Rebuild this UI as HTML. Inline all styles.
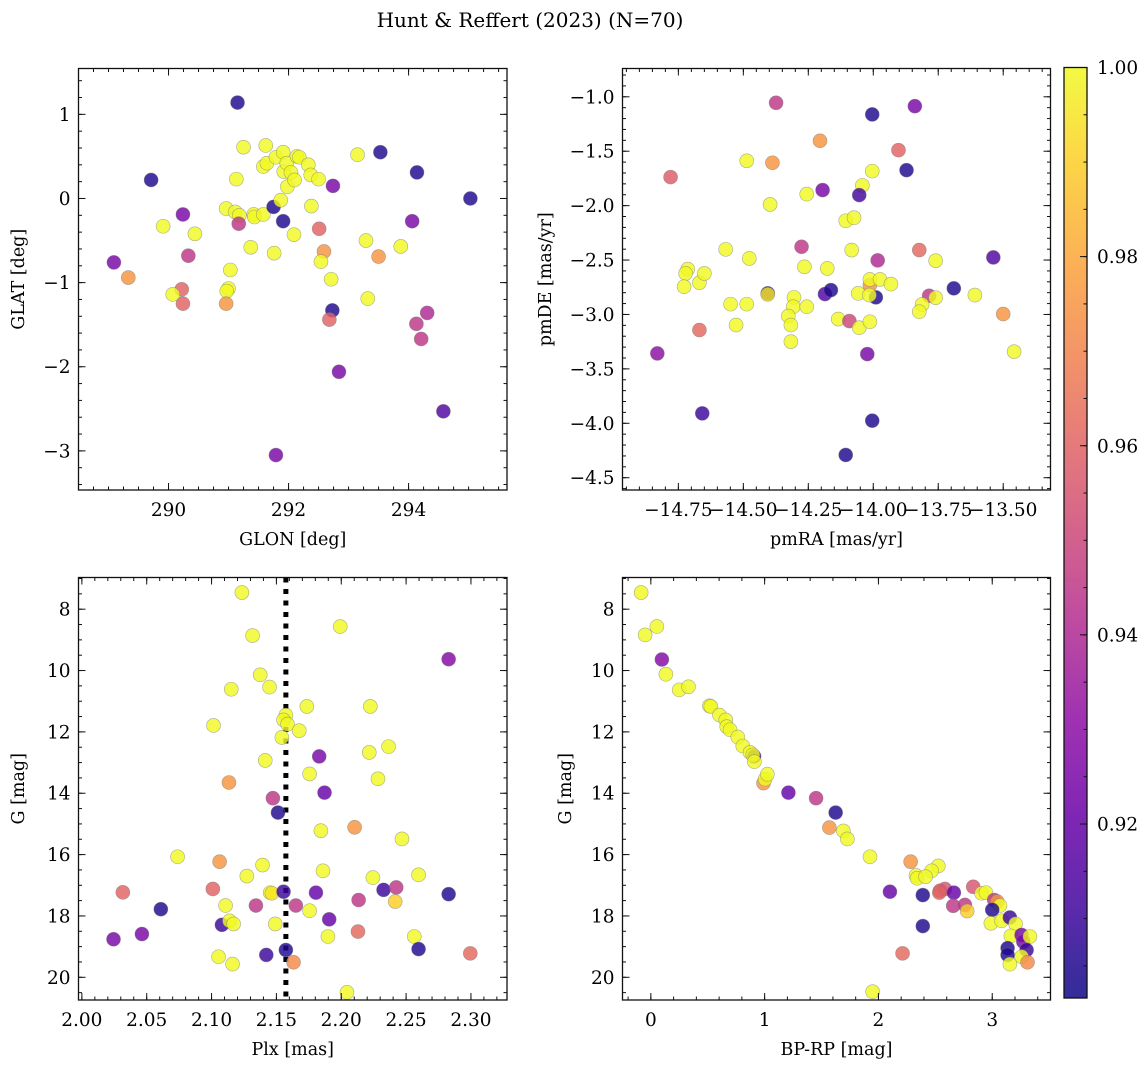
<!DOCTYPE html>
<html><head><meta charset="utf-8"><style>
html,body{margin:0;padding:0;background:#fff}
svg{display:block;font-family:"DejaVu Serif","Liberation Serif",serif}
</style></head><body>
<svg id="fig" width="1148" height="1067" viewBox="0 0 1148 1067" xmlns="http://www.w3.org/2000/svg">
<text x="530" y="27" font-size="20" text-anchor="middle">Hunt &amp; Reffert (2023) (N=70)</text>
</svg>
<script>
// Panel 1: GLON / GLAT
const glonX=[291.15,289.71,289.09,289.33,290.24,290.33,290.22,290.24,290.07,289.91,290.44,290.96,291.11,291.18,291.17,291.03,291.0,290.97,290.96,291.13,291.25,291.42,291.43,291.58,291.37,291.62,291.58,291.64,291.76,291.75,291.87,291.79,291.91,291.91,291.92,291.97,291.98,292.04,292.10,292.09,292.14,292.18,292.33,292.37,292.50,292.38,292.51,292.59,292.54,292.71,292.74,292.73,292.68,292.84,293.15,293.29,293.32,293.53,293.50,293.87,294.14,294.06,294.13,294.21,294.31,294.58,295.03,291.79];
const glatY=[1.14,0.22,-0.76,-0.94,-0.19,-0.68,-1.08,-1.25,-1.14,-0.33,-0.42,-0.12,-0.16,-0.20,-0.30,-0.85,-1.07,-1.10,-1.25,0.23,0.61,-0.19,-0.22,-0.19,-0.58,0.63,0.38,0.42,-0.65,-0.10,-0.02,0.49,0.55,-0.27,0.32,0.42,0.14,0.31,0.22,-0.43,0.50,0.49,0.40,0.28,0.23,-0.09,-0.36,-0.63,-0.75,-0.96,0.15,-1.33,-1.44,-2.06,0.52,-0.50,-1.19,0.55,-0.69,-0.57,0.31,-0.27,-1.49,-1.67,-1.36,-2.53,0.0,-3.05];
const glatC=[0.905,0.905,0.925,0.975,0.925,0.945,0.96,0.96,1,1,1,1,1,1,0.945,1,1,1,0.975,1,1,1,1,1,1,1,1,1,1,0.905,1,1,1,0.905,1,1,1,1,1,1,1,1,1,1,1,1,0.96,0.975,1,1,0.925,0.905,0.96,0.925,1,1,1,0.905,0.975,1,0.905,0.925,0.945,0.945,0.94,0.915,0.905,0.925];
// Panel 2: pmRA / pmDE
const pmraX=[-14.374,-14.004,-13.840,-14.205,-13.903,-14.78,-14.487,-14.388,-13.872,-14.004,-14.042,-14.054,-14.195,-14.256,-14.397,-14.106,-14.074,-14.276,-14.083,-13.983,-13.823,-13.76,-13.538,-14.568,-14.477,-14.714,-14.722,-14.728,-14.669,-14.650,-14.549,-14.487,-14.528,-14.669,-14.831,-14.406,-14.406,-14.265,-14.177,-14.186,-14.163,-14.305,-14.308,-14.327,-14.317,-14.317,-14.256,-14.135,-14.092,-14.054,-14.058,-14.013,-14.013,-13.974,-13.932,-13.99,-14.015,-14.013,-14.023,-13.785,-13.76,-13.812,-13.823,-13.69,-13.609,-13.5,-13.458,-14.658,-14.004,-14.106];
const pmdeY=[-1.055,-1.162,-1.086,-1.404,-1.49,-1.738,-1.588,-1.606,-1.674,-1.683,-1.814,-1.903,-1.857,-1.894,-1.989,-2.139,-2.111,-2.378,-2.408,-2.503,-2.408,-2.506,-2.476,-2.402,-2.485,-2.583,-2.623,-2.745,-2.708,-2.623,-2.905,-2.905,-3.097,-3.143,-3.358,-2.806,-2.815,-2.562,-2.577,-2.813,-2.776,-2.843,-2.929,-3.015,-3.097,-3.25,-2.929,-3.042,-3.061,-3.122,-2.806,-2.73,-2.678,-2.678,-2.721,-2.843,-2.822,-3.067,-3.364,-2.828,-2.846,-2.908,-2.975,-2.76,-2.822,-2.996,-3.342,-3.909,-3.976,-4.291];
const pmdeC=[0.945,0.905,0.925,0.975,0.96,0.958,1,0.975,0.905,1,1,0.912,0.925,1,1,1,1,0.945,1,0.94,0.962,1,0.915,1,1,1,1,1,1,1,1,1,1,0.962,0.93,0.905,0.995,1,1,0.915,0.905,1,1,1,1,1,1,1,0.95,1,1,0.975,1,1,1,0.905,1,1,0.925,0.945,1,1,1,0.905,1,0.975,1,0.91,0.905,0.905];
// Panel 3: Plx / G
const plxX=[2.1234,2.1316,2.1992,2.2828,2.1375,2.1447,2.1152,2.1735,2.2224,2.1015,2.1573,2.1555,2.1586,2.1676,2.1542,2.2365,2.2216,2.183,2.1414,2.1756,2.2283,2.1134,2.1871,2.1473,2.1512,2.2103,2.1843,2.2468,2.0738,2.1062,2.1393,2.1859,2.1272,2.2596,2.2244,2.0316,2.101,2.1452,2.1465,2.1555,2.1805,2.2326,2.2424,2.2828,2.2134,2.2416,2.1342,2.1108,2.165,2.1756,2.0609,2.1907,2.108,2.1139,2.117,2.1491,2.0463,2.0244,2.2129,2.1897,2.2563,2.2596,2.1573,2.1422,2.1054,2.1162,2.1632,2.2995,2.2044];
const plxG=[7.457,8.859,8.565,9.63,10.14,10.54,10.61,11.17,11.17,11.79,11.45,11.61,11.75,11.96,12.18,12.48,12.67,12.80,12.93,13.37,13.53,13.65,13.98,14.16,14.63,15.11,15.22,15.49,16.07,16.23,16.34,16.53,16.70,16.66,16.75,17.23,17.12,17.24,17.26,17.21,17.24,17.15,17.07,17.29,17.48,17.53,17.66,17.66,17.66,17.83,17.78,18.11,18.29,18.16,18.26,18.26,18.59,18.76,18.51,18.67,18.67,19.08,19.11,19.27,19.33,19.57,19.51,19.22,20.49];
const plxC=[1,1,1,0.928,1,1,1,1,1,1,1,1,1,1,1,1,1,0.925,1,1,1,0.975,0.92,0.945,0.905,0.975,1,1,1,0.975,1,1,1,1,1,0.96,0.96,1,0.995,0.91,0.92,0.91,0.945,0.905,0.945,0.99,0.945,1,0.945,1,0.905,0.92,0.91,1,1,1,0.925,0.925,0.962,1,1,0.905,0.905,0.91,1,1,0.972,0.962,1];
// Panel 4: BP-RP / G
const bprpX=[-0.085,-0.05,0.053,0.097,0.132,0.249,0.331,0.515,0.527,0.603,0.658,0.667,0.696,0.764,0.808,0.872,0.907,0.896,0.91,0.99,1.004,1.024,1.209,1.452,1.624,1.569,1.692,1.727,1.926,2.283,2.526,2.467,2.33,2.34,2.414,2.101,2.39,2.39,2.212,1.949,2.54,2.584,2.535,2.663,2.657,2.76,2.78,2.833,2.906,2.944,3.017,3.044,3.068,3.0,2.988,3.082,3.155,3.205,3.164,3.258,3.273,3.331,3.135,3.302,3.135,3.258,3.155,3.31];
const bprpG=[7.457,8.84,8.565,9.64,10.12,10.63,10.53,11.15,11.17,11.45,11.61,11.83,11.93,12.17,12.46,12.67,12.8,12.75,12.97,13.67,13.54,13.38,13.98,14.16,14.63,15.12,15.23,15.49,16.07,16.23,16.37,16.53,16.68,16.77,16.72,17.21,17.32,18.33,19.22,20.47,17.18,17.12,17.24,17.24,17.67,17.64,17.84,17.05,17.26,17.24,17.48,17.53,17.66,17.80,18.24,18.16,18.05,18.26,18.65,18.62,18.84,18.67,19.05,19.11,19.27,19.33,19.57,19.51];
const bprpC=[1,1,1,0.928,1,1,1,1,1,1,1,1,1,1,1,1,0.91,1,1,0.975,1,1,0.92,0.945,0.905,0.975,1,1,1,0.975,1,1,1,1,1,0.92,0.905,0.905,0.962,1,0.96,0.955,0.96,0.92,0.945,0.945,0.99,0.955,1,1,0.945,0.975,1,0.905,1,1,0.91,1,1,0.925,0.925,1,0.905,0.91,0.905,1,1,0.972];
const plxRef=2.1573;
const cbTicks=[0.92,0.94,0.96,0.98,1.00];
const CMIN=0.9016, CMAX=1.0;

const NS="http://www.w3.org/2000/svg";
const svg=document.getElementById('fig');
function mk(tag,attrs,parent){const e=document.createElementNS(NS,tag);for(const k in attrs)e.setAttribute(k,attrs[k]);(parent||svg).appendChild(e);return e;}
const stops=["#0d0887","#41049d","#6a00a8","#8f0da4","#b12a90","#cc4778","#e16462","#f2844b","#fca636","#fcce25","#f0f921"];
function hex(h){return [1,3,5].map(i=>parseInt(h.substr(i,2),16));}
function plasma(t){t=Math.max(0,Math.min(1,t));const s=t*10,i=Math.min(9,Math.floor(s)),f=s-i;const a=hex(stops[i]),b=hex(stops[i+1]);return 'rgb('+a.map((v,k)=>Math.round(v+(b[k]-v)*f)).join(',')+')';}
function cmap(v){return plasma((v-CMIN)/(CMAX-CMIN));}
const TFS=18.5, LFS=17.5;

function panel(cfg){
  const g=mk('g',{});
  
  
  const [L,T,R,B]=cfg.box;
  const sx=v=>L+(v-cfg.xd[0])/(cfg.xd[1]-cfg.xd[0])*(R-L);
  const sy=v=>cfg.yinv? T+(v-cfg.yd[0])/(cfg.yd[1]-cfg.yd[0])*(B-T) : B-(v-cfg.yd[0])/(cfg.yd[1]-cfg.yd[0])*(B-T);
  const clip='c'+cfg.name;
  const cp=mk('clipPath',{id:clip},g);mk('rect',{x:L,y:T,width:R-L,height:B-T},cp);
  const pts=mk('g',{'clip-path':'url(#'+clip+')'},g);
  
  
  if(cfg.vline!==undefined){
    const ln=mk('line',{x1:sx(cfg.vline),x2:sx(cfg.vline),y1:T,y2:B,stroke:'#000','stroke-width':5,'stroke-dasharray':'5,6.5'},pts);
    
    
  }
  cfg.x.forEach((xv,i)=>{
    const c=mk('circle',{cx:sx(xv),cy:sy(cfg.y[i]),r:7,fill:cmap(cfg.c[i]),'fill-opacity':0.82,stroke:'#777','stroke-opacity':0.6,'stroke-width':0.6},pts);
    
    
  });
  mk('rect',{x:L,y:T,width:R-L,height:B-T,fill:'none',stroke:'#111','stroke-width':1.3},g);
  const tk=(x1,y1,x2,y2)=>mk('line',{x1,y1,x2,y2,stroke:'#111','stroke-width':1},g);
  const eps=1e-9;
  for(let v=Math.ceil(cfg.xd[0]/cfg.xm-eps)*cfg.xm; v<=cfg.xd[1]+eps; v+=cfg.xm){const x=sx(v);tk(x,B,x,B-3.5);tk(x,T,x,T+3.5);}
  for(let v=Math.ceil(cfg.yd[0]/cfg.ym-eps)*cfg.ym; v<=cfg.yd[1]+eps; v+=cfg.ym){const y=sy(v);tk(L,y,L+3.5,y);tk(R,y,R-3.5,y);}
  cfg.xt.forEach(v=>{const x=sx(v);tk(x,B,x,B-7);tk(x,T,x,T+7);
    const t=mk('text',{x:x,y:B+26,'font-size':TFS,'text-anchor':'middle'},g);t.textContent=cfg.xf(v);
    
    });
  cfg.yt.forEach(v=>{const y=sy(v);tk(L,y,L+7,y);tk(R,y,R-7,y);
    const t=mk('text',{x:L-8,y:y+6.5,'font-size':TFS,'text-anchor':'end'},g);t.textContent=cfg.yf(v);
    
    });
  const xl=mk('text',{x:(L+R)/2,y:B+55,'font-size':LFS,'text-anchor':'middle'},g);xl.textContent=cfg.xlab;
  
  
  const yl=mk('text',{x:0,y:0,'font-size':LFS,'text-anchor':'middle',transform:'translate('+cfg.ylx+','+(T+B)/2+') rotate(-90)'},g);yl.textContent=cfg.ylab;
  
  
}
const minus=s=>s.replace('-','\u2212');
panel({name:'glon-glat-panel',box:[78.5,68.5,507,490],xd:[288.5,295.64],yd:[-3.465,1.545],x:glonX,y:glatY,c:glatC,
  xt:[290,292,294],yt:[1,0,-1,-2,-3],xm:0.25,ym:0.2,xf:v=>String(v),yf:v=>minus(String(v)),xlab:'GLON [deg]',ylab:'GLAT [deg]',ylx:24});
panel({name:'pm-panel',box:[622.5,68.5,1050.5,490],xd:[-14.965,-13.318],yd:[-4.613,-0.74],x:pmraX,y:pmdeY,c:pmdeC,
  xt:[-14.75,-14.5,-14.25,-14,-13.75,-13.5],yt:[-1,-1.5,-2,-2.5,-3,-3.5,-4,-4.5],xm:0.05,ym:0.1,xf:v=>minus(v.toFixed(2)),yf:v=>minus(v.toFixed(1)),xlab:'pmRA [mas/yr]',ylab:'pmDE [mas/yr]',ylx:551});
panel({name:'plx-g-panel',box:[78.5,577.5,507,1000],xd:[1.9974,2.3278],yd:[6.967,20.74],yinv:true,x:plxX,y:plxG,c:plxC,vline:plxRef,
  xt:[2.0,2.05,2.1,2.15,2.2,2.25,2.3],yt:[8,10,12,14,16,18,20],xm:0.01,ym:0.5,xf:v=>v.toFixed(2),yf:v=>String(v),xlab:'Plx [mas]',ylab:'G [mag]',ylx:24});
panel({name:'cmd-panel',box:[622.5,577.5,1050.5,1000],xd:[-0.249,3.512],yd:[6.967,20.74],yinv:true,x:bprpX,y:bprpG,c:bprpC,
  xt:[0,1,2,3],yt:[8,10,12,14,16,18,20],xm:0.2,ym:0.5,xf:v=>String(v),yf:v=>String(v),xlab:'BP-RP [mag]',ylab:'G [mag]',ylx:571});

(function(){
  const L=1064,R=1087,T=67.5,B=998;
  const cg=mk('g',{});
  
  
  const defs=mk('defs',{},cg);
  const lg=mk('linearGradient',{id:'cbg',x1:0,y1:1,x2:0,y2:0},defs);
  for(let i=0;i<=20;i++){mk('stop',{offset:i/20,'stop-color':plasma(i/20),'stop-opacity':0.85},lg);}
  mk('rect',{x:L,y:T,width:R-L,height:B-T,fill:'url(#cbg)',stroke:'#111','stroke-width':1.3},cg);
  const sc=v=>B-(v-CMIN)/(CMAX-CMIN)*(B-T);
  for(let v=0.905;v<=1.0001;v+=0.005){const y=sc(v);mk('line',{x1:R,x2:R-3.5,y1:y,y2:y,stroke:'#111'},cg);}
  cbTicks.forEach(v=>{const y=sc(v);mk('line',{x1:R,x2:R-7,y1:y,y2:y,stroke:'#111'},cg);
    const t=mk('text',{x:R+10,y:y+6.5,'font-size':TFS},cg);t.textContent=v.toFixed(2);
    
    });
})();
</script>
</body></html>
